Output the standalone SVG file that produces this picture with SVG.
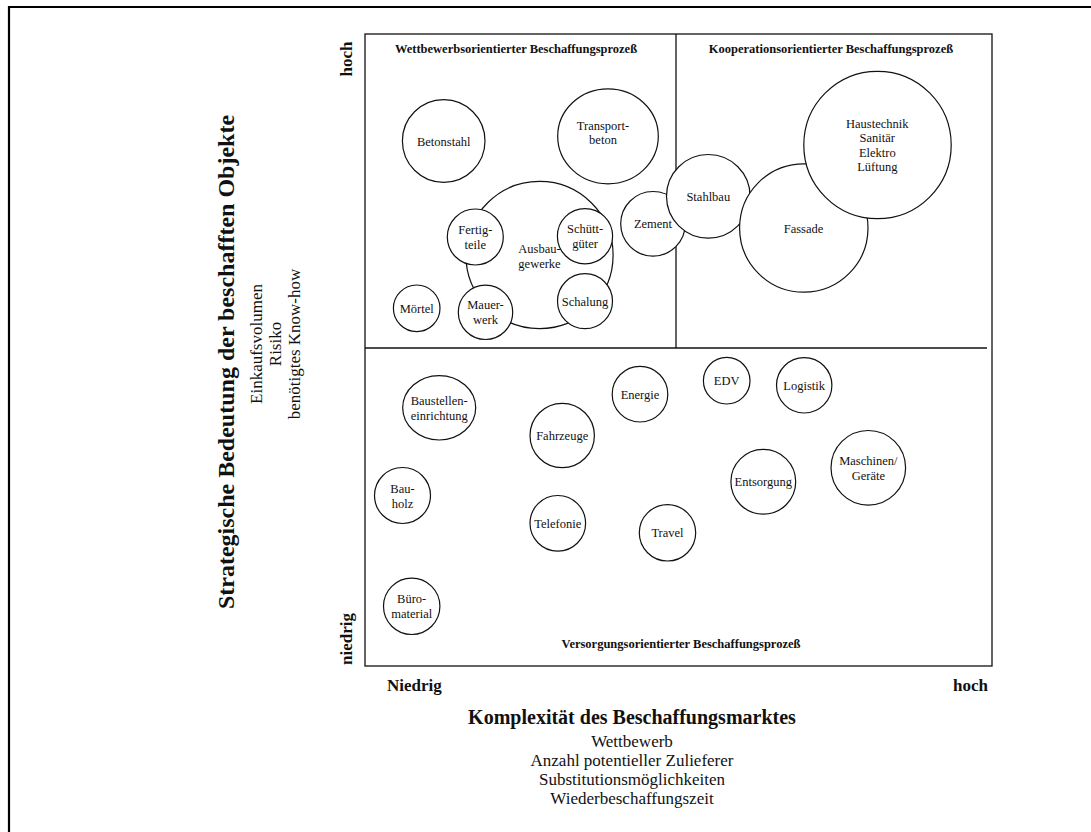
<svg xmlns="http://www.w3.org/2000/svg" width="1091" height="832" viewBox="0 0 1091 832">
<style>
  text { font-family: "Liberation Serif", "Times New Roman", serif; fill: #111; }
  .lbl { font-size: 12.5px; text-anchor: middle; }
  .qt { font-size: 12.5px; font-weight: bold; text-anchor: middle; }
  .ax { font-size: 17px; font-weight: bold; }
  .axt { font-size: 24px; font-weight: bold; text-anchor: middle; }
  .axb { font-size: 20px; font-weight: bold; text-anchor: middle; }
  .sub { font-size: 17px; text-anchor: middle; }
  .c { fill: #fff; stroke: #111; stroke-width: 1.2; }
  .frame { fill: none; stroke: #111; stroke-width: 1.3; }
</style>
<rect width="1091" height="832" fill="#fff"/>
<g id="outer-border">
  <line x1="9" y1="7" x2="1091" y2="7" stroke="#000" stroke-width="2.2"/>
  <line x1="9" y1="6" x2="9" y2="832" stroke="#000" stroke-width="2.2"/>
</g>
<g id="connectors">
  <rect class="frame" x="365" y="34" width="627" height="632"/>
  <line class="frame" x1="676" y1="34" x2="676" y2="348"/>
  <line class="frame" x1="365" y1="348" x2="987" y2="348"/>
</g>
<g id="quadrant-titles">
  <text class="qt" x="516" y="53">Wettbewerbsorientierter Beschaffungsprozeß</text>
  <text class="qt" x="831" y="53">Kooperationsorientierter Beschaffungsprozeß</text>
  <text class="qt" x="681" y="648">Versorgungsorientierter Beschaffungsprozeß</text>
</g>
<g id="node-betonstahl"><circle class="c" cx="443.7" cy="141" r="41.3"/><text class="lbl" x="443.7" y="145.5">Betonstahl</text></g>
<g id="node-transportbeton"><ellipse class="c" cx="608" cy="136.3" rx="50.3" ry="47.5"/><text class="lbl" x="603" y="130">Transport-</text><text class="lbl" x="603" y="144">beton</text></g>
<g id="node-ausbaugewerke"><circle class="c" cx="539.5" cy="255" r="73.6"/><text class="lbl" x="539.5" y="253">Ausbau-</text><text class="lbl" x="539.5" y="268">gewerke</text></g>
<g id="node-fertigteile"><circle class="c" cx="475.3" cy="237" r="28"/><text class="lbl" x="475.3" y="234">Fertig-</text><text class="lbl" x="475.3" y="249">teile</text></g>
<g id="node-schuettgueter"><circle class="c" cx="585" cy="236.2" r="27.6"/><text class="lbl" x="585" y="233">Schütt-</text><text class="lbl" x="585" y="248">güter</text></g>
<g id="node-moertel"><circle class="c" cx="416.7" cy="308.3" r="23.3"/><text class="lbl" x="416.7" y="312.5">Mörtel</text></g>
<g id="node-mauerwerk"><circle class="c" cx="485.5" cy="312.3" r="27.2"/><text class="lbl" x="485.5" y="309">Mauer-</text><text class="lbl" x="485.5" y="324">werk</text></g>
<g id="node-schalung"><circle class="c" cx="585" cy="301.2" r="27.5"/><text class="lbl" x="585" y="305.5">Schalung</text></g>
<g id="node-zement"><circle class="c" cx="653" cy="223.8" r="32.3"/><text class="lbl" x="653" y="228">Zement</text></g>
<g id="node-stahlbau"><circle class="c" cx="708.3" cy="196.3" r="41.8"/><text class="lbl" x="708.3" y="201">Stahlbau</text></g>
<g id="node-fassade"><circle class="c" cx="803.8" cy="228" r="64.2"/><text class="lbl" x="803.5" y="232.5">Fassade</text></g>
<g id="node-haustechnik"><circle class="c" cx="877.5" cy="145" r="73.7"/><text class="lbl" x="877.3" y="128">Haustechnik</text><text class="lbl" x="877.3" y="142.3">Sanitär</text><text class="lbl" x="877.3" y="156.6">Elektro</text><text class="lbl" x="877.3" y="170.9">Lüftung</text></g>
<g id="node-baustelleneinrichtung"><ellipse class="c" cx="439.2" cy="407.8" rx="36.5" ry="32.2"/><text class="lbl" x="439.2" y="404.5">Baustellen-</text><text class="lbl" x="439.2" y="419.5">einrichtung</text></g>
<g id="node-fahrzeuge"><circle class="c" cx="562.2" cy="435.5" r="32.2"/><text class="lbl" x="562.2" y="440">Fahrzeuge</text></g>
<g id="node-energie"><circle class="c" cx="640" cy="394.2" r="27.8"/><text class="lbl" x="640" y="398.7">Energie</text></g>
<g id="node-edv"><circle class="c" cx="726.7" cy="380.7" r="23.3"/><text class="lbl" x="726.7" y="385">EDV</text></g>
<g id="node-logistik"><circle class="c" cx="804.2" cy="385.3" r="27.7"/><text class="lbl" x="804.2" y="389.5">Logistik</text></g>
<g id="node-bauholz"><circle class="c" cx="402.5" cy="495.5" r="28"/><text class="lbl" x="402.5" y="493">Bau-</text><text class="lbl" x="402.5" y="508">holz</text></g>
<g id="node-telefonie"><circle class="c" cx="557.8" cy="523.3" r="27.8"/><text class="lbl" x="557.8" y="527.5">Telefonie</text></g>
<g id="node-travel"><circle class="c" cx="667.5" cy="532.8" r="28.2"/><text class="lbl" x="667.5" y="537">Travel</text></g>
<g id="node-entsorgung"><circle class="c" cx="763.3" cy="481.8" r="32.4"/><text class="lbl" x="763.3" y="486.3">Entsorgung</text></g>
<g id="node-maschinen"><circle class="c" cx="868.3" cy="467.8" r="37.3"/><text class="lbl" x="868.3" y="464.5">Maschinen/</text><text class="lbl" x="868.3" y="479.5">Geräte</text></g>
<g id="node-bueromaterial"><circle class="c" cx="411.7" cy="606.3" r="28.2"/><text class="lbl" x="411.7" y="603">Büro-</text><text class="lbl" x="411.7" y="618">material</text></g>
<g id="y-axis">
  <text class="ax" text-anchor="middle" transform="translate(352,59) rotate(-90)">hoch</text>
  <text class="ax" text-anchor="middle" transform="translate(352,639) rotate(-90)">niedrig</text>
  <text class="axt" transform="translate(234,362) rotate(-90)">Strategische Bedeutung der beschafften Objekte</text>
  <text class="sub" transform="translate(262,344) rotate(-90)">Einkaufsvolumen</text>
  <text class="sub" transform="translate(281,344) rotate(-90)">Risiko</text>
  <text class="sub" transform="translate(300,344) rotate(-90)">benötigtes Know-how</text>
</g>
<g id="x-axis">
  <text class="ax" x="387" y="691">Niedrig</text>
  <text class="ax" x="988" y="691" text-anchor="end">hoch</text>
  <text class="axb" x="632" y="724">Komplexität des Beschaffungsmarktes</text>
  <text class="sub" x="632" y="747">Wettbewerb</text>
  <text class="sub" x="632" y="766">Anzahl potentieller Zulieferer</text>
  <text class="sub" x="632" y="785">Substitutionsmöglichkeiten</text>
  <text class="sub" x="632" y="804">Wiederbeschaffungszeit</text>
</g>
</svg>
